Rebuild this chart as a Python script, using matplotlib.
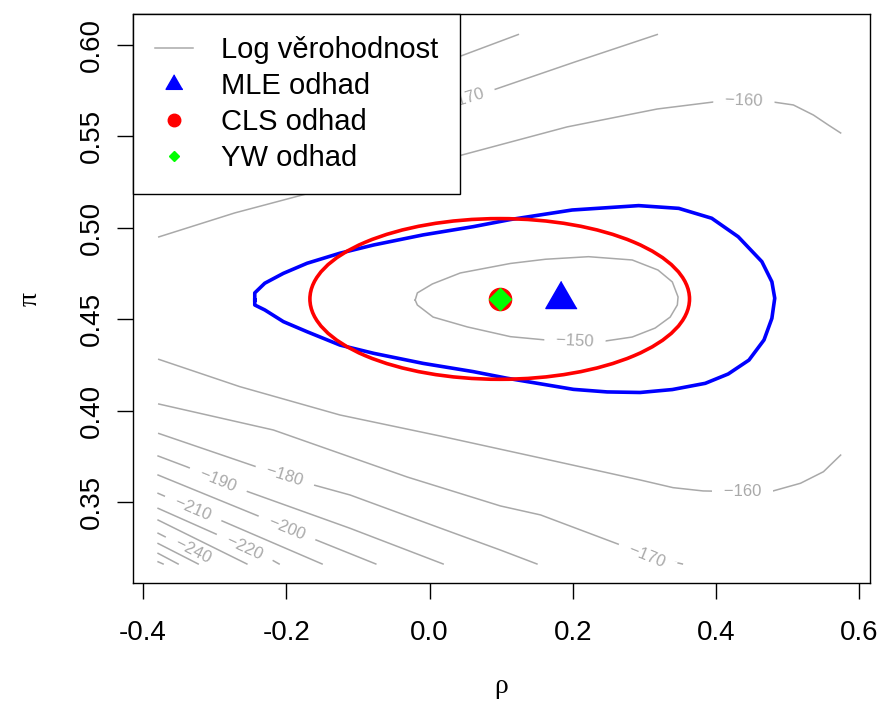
import numpy as np
import matplotlib
matplotlib.use('Agg')
import matplotlib.pyplot as plt
from matplotlib.lines import Line2D
from matplotlib.patches import Ellipse

plt.rcParams['font.family'] = ['Liberation Sans', 'DejaVu Sans']
plt.rcParams['axes.unicode_minus'] = False

# log-likelihood contour lines (rho, pi)
c150_rho = [-0.020, -0.017, 0.004, 0.043, 0.113, 0.162, 0.222, 0.283, 0.319, 0.339, 0.347,
            0.346, 0.336, 0.315, 0.283, 0.245, 0.203, 0.162, 0.113, 0.053, 0.005, -0.017, -0.020]
c150_pi = [0.4604, 0.4643, 0.4692, 0.4752, 0.4804, 0.4827, 0.4841, 0.4823, 0.4768, 0.4703, 0.4621,
           0.4577, 0.4511, 0.4451, 0.4402, 0.4380, 0.4378, 0.4386, 0.4404, 0.4457, 0.4511, 0.4577, 0.4604]

c160a_rho = [-0.378, -0.272, -0.167, -0.069, 0.040, 0.192, 0.318, 0.396, 0.439, 0.480, 0.508, 0.536, 0.557, 0.574]
c160a_pi = [0.4949, 0.5080, 0.5189, 0.5293, 0.5391, 0.5550, 0.5648, 0.5686, 0.5692, 0.5686, 0.5670, 0.5615, 0.5560, 0.5517]
c160b_rho = [-0.378, -0.265, -0.125, 0.015, 0.155, 0.294, 0.340, 0.382, 0.437, 0.476, 0.518, 0.550, 0.574]
c160b_pi = [0.4280, 0.4131, 0.3976, 0.3861, 0.3741, 0.3621, 0.3579, 0.3561, 0.3557, 0.3557, 0.3603, 0.3666, 0.3757]

c170a_rho = [-0.378, -0.181, 0.040, 0.089, 0.203, 0.318]
c170a_pi = [0.5260, 0.5479, 0.5692, 0.5752, 0.5905, 0.6055]
c170b_rho = [-0.378, -0.218, -0.031, 0.099, 0.155, 0.263, 0.304, 0.353]
c170b_pi = [0.4036, 0.3894, 0.3637, 0.3479, 0.3430, 0.3271, 0.3206, 0.3162]

c180a_rho = [-0.378, -0.181, 0.040, 0.124]
c180a_pi = [0.5369, 0.5615, 0.5932, 0.6055]
c180b_rho = [-0.378, -0.241, -0.164, -0.111, 0.015, 0.099, 0.150]
c180b_pi = [0.3875, 0.3692, 0.3596, 0.3539, 0.3358, 0.3238, 0.3162]

c190_rho = [-0.379, -0.339, -0.260, -0.111, 0.019]
c190_pi = [0.3752, 0.3693, 0.3566, 0.3357, 0.3162]
c200_rho = [-0.379, -0.239, -0.164, -0.075]
c200_pi = [0.3648, 0.3424, 0.3302, 0.3162]
c210_rho = [-0.379, -0.299, -0.150]
c210_pi = [0.3548, 0.3413, 0.3162]
c220_rho = [-0.379, -0.295, -0.220, -0.210]
c220_pi = [0.3466, 0.3320, 0.3184, 0.3162]
c230_rho = [-0.379, -0.255]
c230_pi = [0.3402, 0.3162]
c240_rho = [-0.379, -0.294]
c240_pi = [0.3330, 0.3162]
c250_rho = [-0.379, -0.323]
c250_pi = [0.3274, 0.3162]
c260_rho = [-0.379, -0.351]
c260_pi = [0.3220, 0.3162]
c270_rho = [-0.379, -0.372]
c270_pi = [0.3174, 0.3162]

# contour labels: text, rho, pi
lab_text = ['−150', '−160', '−160', '−170', '−170', '−180', '−190', '−200', '−210', '−220', '−240']
lab_rho = [0.203, 0.439, 0.437, 0.050, 0.304, -0.202, -0.295, -0.199, -0.330, -0.258, -0.330]
lab_pi = [0.4378, 0.5692, 0.3557, 0.5704, 0.3206, 0.3643, 0.3622, 0.3359, 0.3465, 0.3253, 0.3233]

# MLE likelihood-ratio region
mle_rho = [-0.244, -0.244, -0.230, -0.204, -0.171, -0.125, -0.078, -0.009, 0.061, 0.113, 0.199,
           0.292, 0.348, 0.394, 0.431, 0.464, 0.478, 0.482, 0.478, 0.467, 0.446, 0.417, 0.385,
           0.339, 0.294, 0.248, 0.201, 0.108, 0.061, -0.009, -0.078, -0.125, -0.171, -0.204,
           -0.230, -0.244, -0.244]
mle_pi = [0.4604, 0.4643, 0.4696, 0.4750, 0.4805, 0.4860, 0.4905, 0.4960, 0.5005, 0.5044, 0.5096,
          0.5120, 0.5105, 0.5051, 0.4950, 0.4814, 0.4704, 0.4614, 0.4504, 0.4386, 0.4276, 0.4200,
          0.4149, 0.4115, 0.4099, 0.4102, 0.4116, 0.4177, 0.4213, 0.4258, 0.4313, 0.4358, 0.4431,
          0.4486, 0.4550, 0.4577, 0.4604]

# estimates
mle_est = (0.183, 0.461)
cls_est = (0.098, 0.461)
yw_est = (0.098, 0.461)
# CLS confidence ellipse semi-axes
cls_half_rho = 0.265
cls_half_pi = 0.0439

x_ticks = [-0.4, -0.2, 0.0, 0.2, 0.4, 0.6]
x_labels = ['-0.4', '-0.2', '0.0', '0.2', '0.4', '0.6']
y_ticks = [0.35, 0.40, 0.45, 0.50, 0.55, 0.60]
y_labels = ['0.35', '0.40', '0.45', '0.50', '0.55', '0.60']

contours = [(c150_rho, c150_pi), (c160a_rho, c160a_pi), (c160b_rho, c160b_pi),
            (c170a_rho, c170a_pi), (c170b_rho, c170b_pi), (c180a_rho, c180a_pi),
            (c180b_rho, c180b_pi), (c190_rho, c190_pi), (c200_rho, c200_pi),
            (c210_rho, c210_pi), (c220_rho, c220_pi), (c230_rho, c230_pi),
            (c240_rho, c240_pi), (c250_rho, c250_pi), (c260_rho, c260_pi),
            (c270_rho, c270_pi)]
lab_line = [0, 1, 2, 3, 4, 6, 7, 8, 9, 10, 12]

fig = plt.figure(figsize=(8.82, 7.19), dpi=100)
ax = fig.add_axes([133 / 882, 1 - 583 / 719, (870 - 133) / 882, (583 - 14) / 719])
ax.set_xlim(-0.414, 0.615)
ax.set_ylim(0.3058, 0.6167)

grey = '#A9A9A9'
for rho, pi in contours:
    ax.plot(rho, pi, color=grey, lw=1.1, zorder=1)


def label_angle(rho, pi, x, y):
    pts = ax.transData.transform(np.column_stack([rho, pi]))
    p = ax.transData.transform((x, y))
    mids = (pts[:-1] + pts[1:]) / 2
    i = np.argmin(np.hypot(mids[:, 0] - p[0], mids[:, 1] - p[1]))
    dx, dy = pts[i + 1] - pts[i]
    ang = np.degrees(np.arctan2(dy, dx))
    if ang > 90:
        ang -= 180
    if ang < -90:
        ang += 180
    return ang


# white box behind each label cuts a gap in its line, like R's contour()
for t, x, y, k in zip(lab_text, lab_rho, lab_pi, lab_line):
    rho, pi = contours[k]
    ang = label_angle(rho, pi, x, y)
    ax.text(x, y, '   ' + t + '   ', color=grey, fontsize=12, rotation=ang,
            rotation_mode='anchor', ha='center', va='center', zorder=2,
            bbox=dict(boxstyle='square,pad=-0.12', fc='white', ec='none'))

ax.plot(mle_rho, mle_pi, color='blue', lw=2.6, zorder=3)
ax.add_patch(Ellipse(cls_est, 2 * cls_half_rho, 2 * cls_half_pi, fill=False,
                     ec='red', lw=2.6, zorder=3))

tri = [(0, 1), (-0.866, -0.5), (0.866, -0.5)]
ax.plot(*mle_est, ls='none', marker=tri, ms=26, color='blue', zorder=4)
ax.plot(*cls_est, ls='none', marker='o', ms=16, color='red', zorder=4)
ax.plot(*yw_est, ls='none', marker='D', ms=11, color='#00FF00', zorder=5)

handles = [Line2D([], [], color=grey, lw=1.1, label='Log věrohodnost'),
           Line2D([], [], ls='none', marker=tri, ms=14, color='blue', label='MLE odhad'),
           Line2D([], [], ls='none', marker='o', ms=9, color='red', label='CLS odhad'),
           Line2D([], [], ls='none', marker='D', ms=5.5, color='#00FF00', label='YW odhad')]
leg = ax.legend(handles=handles, loc='upper left', bbox_to_anchor=(0, 1), borderaxespad=0,
                fancybox=False, edgecolor='black', framealpha=1, fontsize=21,
                handlelength=1.3, handletextpad=0.95, labelspacing=0.27, borderpad=0.76,
                numpoints=1)
leg.get_frame().set_linewidth(1.0)
leg.set_zorder(6)

ax.set_xticks(x_ticks)
ax.set_xticklabels(x_labels)
ax.set_yticks(y_ticks)
ax.set_yticklabels(y_labels, rotation=90, va='center')
ax.tick_params(axis='both', direction='out', length=11.5, width=1.0, labelsize=20)
ax.tick_params(axis='x', pad=15)
ax.tick_params(axis='y', pad=9)
for s in ax.spines.values():
    s.set_linewidth(1.0)

ax.set_xlabel('ρ', fontsize=20, family='Liberation Serif', labelpad=20)
ax.set_ylabel('π', fontsize=20, family='Liberation Serif', labelpad=26)

fig.savefig('out.png', dpi=100)
